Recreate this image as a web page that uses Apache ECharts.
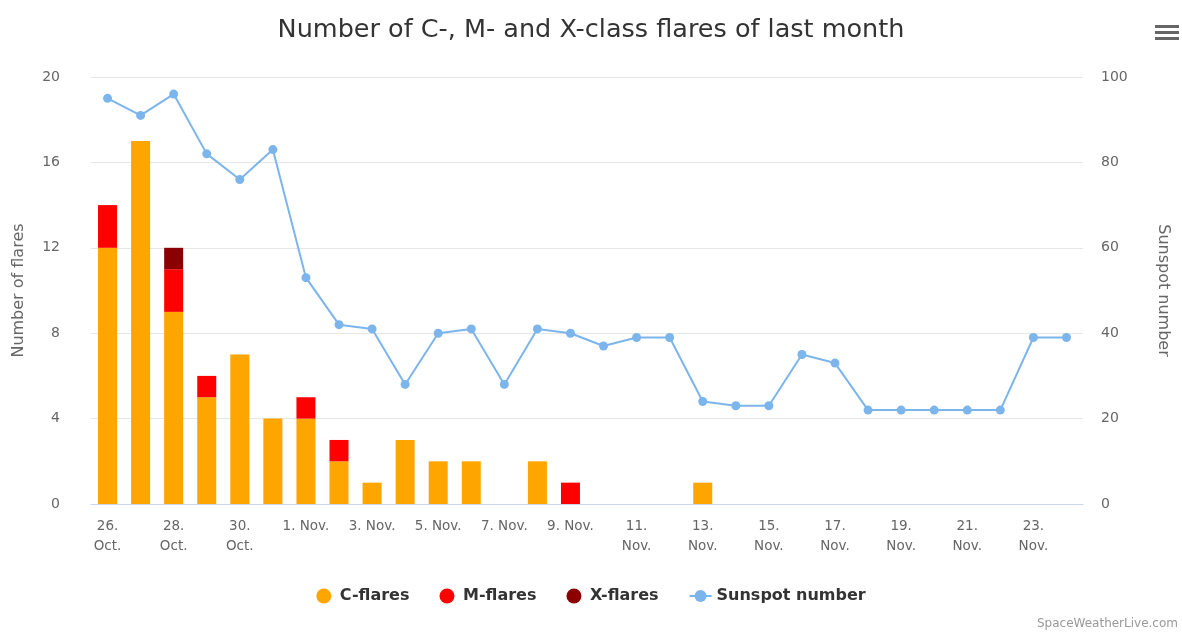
<!DOCTYPE html>
<html>
<head>
<meta charset="utf-8">
<script src="https://cdn.jsdelivr.net/npm/echarts@6/dist/echarts.min.js"></script>
<style>
  html, body { margin: 0; padding: 0; background: #fff; }
  #chart { width: 1182px; height: 632px; }
</style>
</head>
<body>
<div id="chart"></div>
<script>
// days from 26 Oct to 24 Nov
var days = [
  '26.\nOct.', '27.\nOct.', '28.\nOct.', '29.\nOct.', '30.\nOct.', '31.\nOct.',
  '1. Nov.', '2. Nov.', '3. Nov.', '4. Nov.', '5. Nov.', '6. Nov.', '7. Nov.', '8. Nov.', '9. Nov.', '10. Nov.',
  '11.\nNov.', '12.\nNov.', '13.\nNov.', '14.\nNov.', '15.\nNov.', '16.\nNov.', '17.\nNov.', '18.\nNov.',
  '19.\nNov.', '20.\nNov.', '21.\nNov.', '22.\nNov.', '23.\nNov.', '24.\nNov.'
];
var cFlares = [12, 17, 9, 5, 7, 4, 4, 2, 1, 3, 2, 2, 0, 2, 0, 0, 0, 0, 1, 0, 0, 0, 0, 0, 0, 0, 0, 0, 0, 0];
var mFlares = [2, 0, 2, 1, 0, 0, 1, 1, 0, 0, 0, 0, 0, 0, 1, 0, 0, 0, 0, 0, 0, 0, 0, 0, 0, 0, 0, 0, 0, 0];
var xFlares = [0, 0, 1, 0, 0, 0, 0, 0, 0, 0, 0, 0, 0, 0, 0, 0, 0, 0, 0, 0, 0, 0, 0, 0, 0, 0, 0, 0, 0, 0];
var sunspots = [95, 91, 96, 82, 76, 83, 53, 42, 41, 28, 40, 41, 28, 41, 40, 37, 39, 39, 24, 23, 23, 35, 33, 22, 22, 22, 22, 22, 39, 39];

var fontName = 'DejaVu Sans';

var chart = echarts.init(document.getElementById('chart'));
chart.setOption({
  animation: false,
  textStyle: { fontFamily: fontName },
  title: {
    text: 'Number of C-, M- and X-class flares of last month',
    left: 'center',
    top: 12,
    textStyle: { fontSize: 25.5, fontWeight: 'normal', color: '#333', fontFamily: fontName }
  },
  legend: {
    bottom: 23,
    left: 'center',
    itemGap: 30,
    itemWidth: 22,
    itemHeight: 15,
    textStyle: { fontSize: 16, fontWeight: 'bold', color: '#333' },
    data: [
      { name: 'C-flares', icon: 'circle' },
      { name: 'M-flares', icon: 'circle' },
      { name: 'X-flares', icon: 'circle' },
      { name: 'Sunspot number' }
    ]
  },
  grid: { left: 91, right: 99, top: 77, bottom: 128, containLabel: false, outerBoundsMode: 'none' },
  xAxis: {
    type: 'category',
    data: days,
    axisLine: { lineStyle: { color: '#ccd6eb' } },
    axisTick: { interval: 1, alignWithLabel: true, length: 10, lineStyle: { color: '#ccd6eb' } },
    axisLabel: { interval: 1, color: '#666', fontSize: 13.5, margin: 12, lineHeight: 20 }
  },
  yAxis: [
    {
      type: 'value',
      min: 0, max: 20, interval: 4,
      name: 'Number of flares',
      nameLocation: 'middle',
      nameGap: 64,
      nameTextStyle: { color: '#666', fontSize: 16 },
      axisLabel: { color: '#666', fontSize: 14, margin: 31 },
      splitLine: { lineStyle: { color: '#e6e6e6' } },
      axisLine: { show: false },
      axisTick: { show: false }
    },
    {
      type: 'value',
      min: 0, max: 100, interval: 20,
      name: 'Sunspot number',
      nameLocation: 'middle',
      nameGap: 72,
      nameRotate: -90,
      nameTextStyle: { color: '#666', fontSize: 16 },
      axisLabel: { color: '#666', fontSize: 14, margin: 18 },
      splitLine: { show: false },
      axisLine: { show: false },
      axisTick: { show: false }
    }
  ],
  series: [
    {
      name: 'C-flares', type: 'bar', stack: 'flares', data: cFlares,
      barWidth: 19, itemStyle: { color: '#FFA500' }
    },
    {
      name: 'M-flares', type: 'bar', stack: 'flares', data: mFlares,
      barWidth: 19, itemStyle: { color: '#FF0000' }
    },
    {
      name: 'X-flares', type: 'bar', stack: 'flares', data: xFlares,
      barWidth: 19, itemStyle: { color: '#8B0000' }
    },
    {
      name: 'Sunspot number', type: 'line', yAxisIndex: 1, data: sunspots,
      symbol: 'circle', symbolSize: 9,
      lineStyle: { width: 2, color: '#7cb5ec' },
      itemStyle: { color: '#7cb5ec' }
    }
  ],
  graphic: [
    { type: 'rect', right: 3, top: 25, shape: { width: 24, height: 3 }, style: { fill: '#666' } },
    { type: 'rect', right: 3, top: 31, shape: { width: 24, height: 3 }, style: { fill: '#666' } },
    { type: 'rect', right: 3, top: 37, shape: { width: 24, height: 3 }, style: { fill: '#666' } },
    {
      type: 'text', right: 4, bottom: 2,
      style: { text: 'SpaceWeatherLive.com', fill: '#999', font: '12px ' + fontName }
    }
  ]
});
</script>
</body>
</html>
